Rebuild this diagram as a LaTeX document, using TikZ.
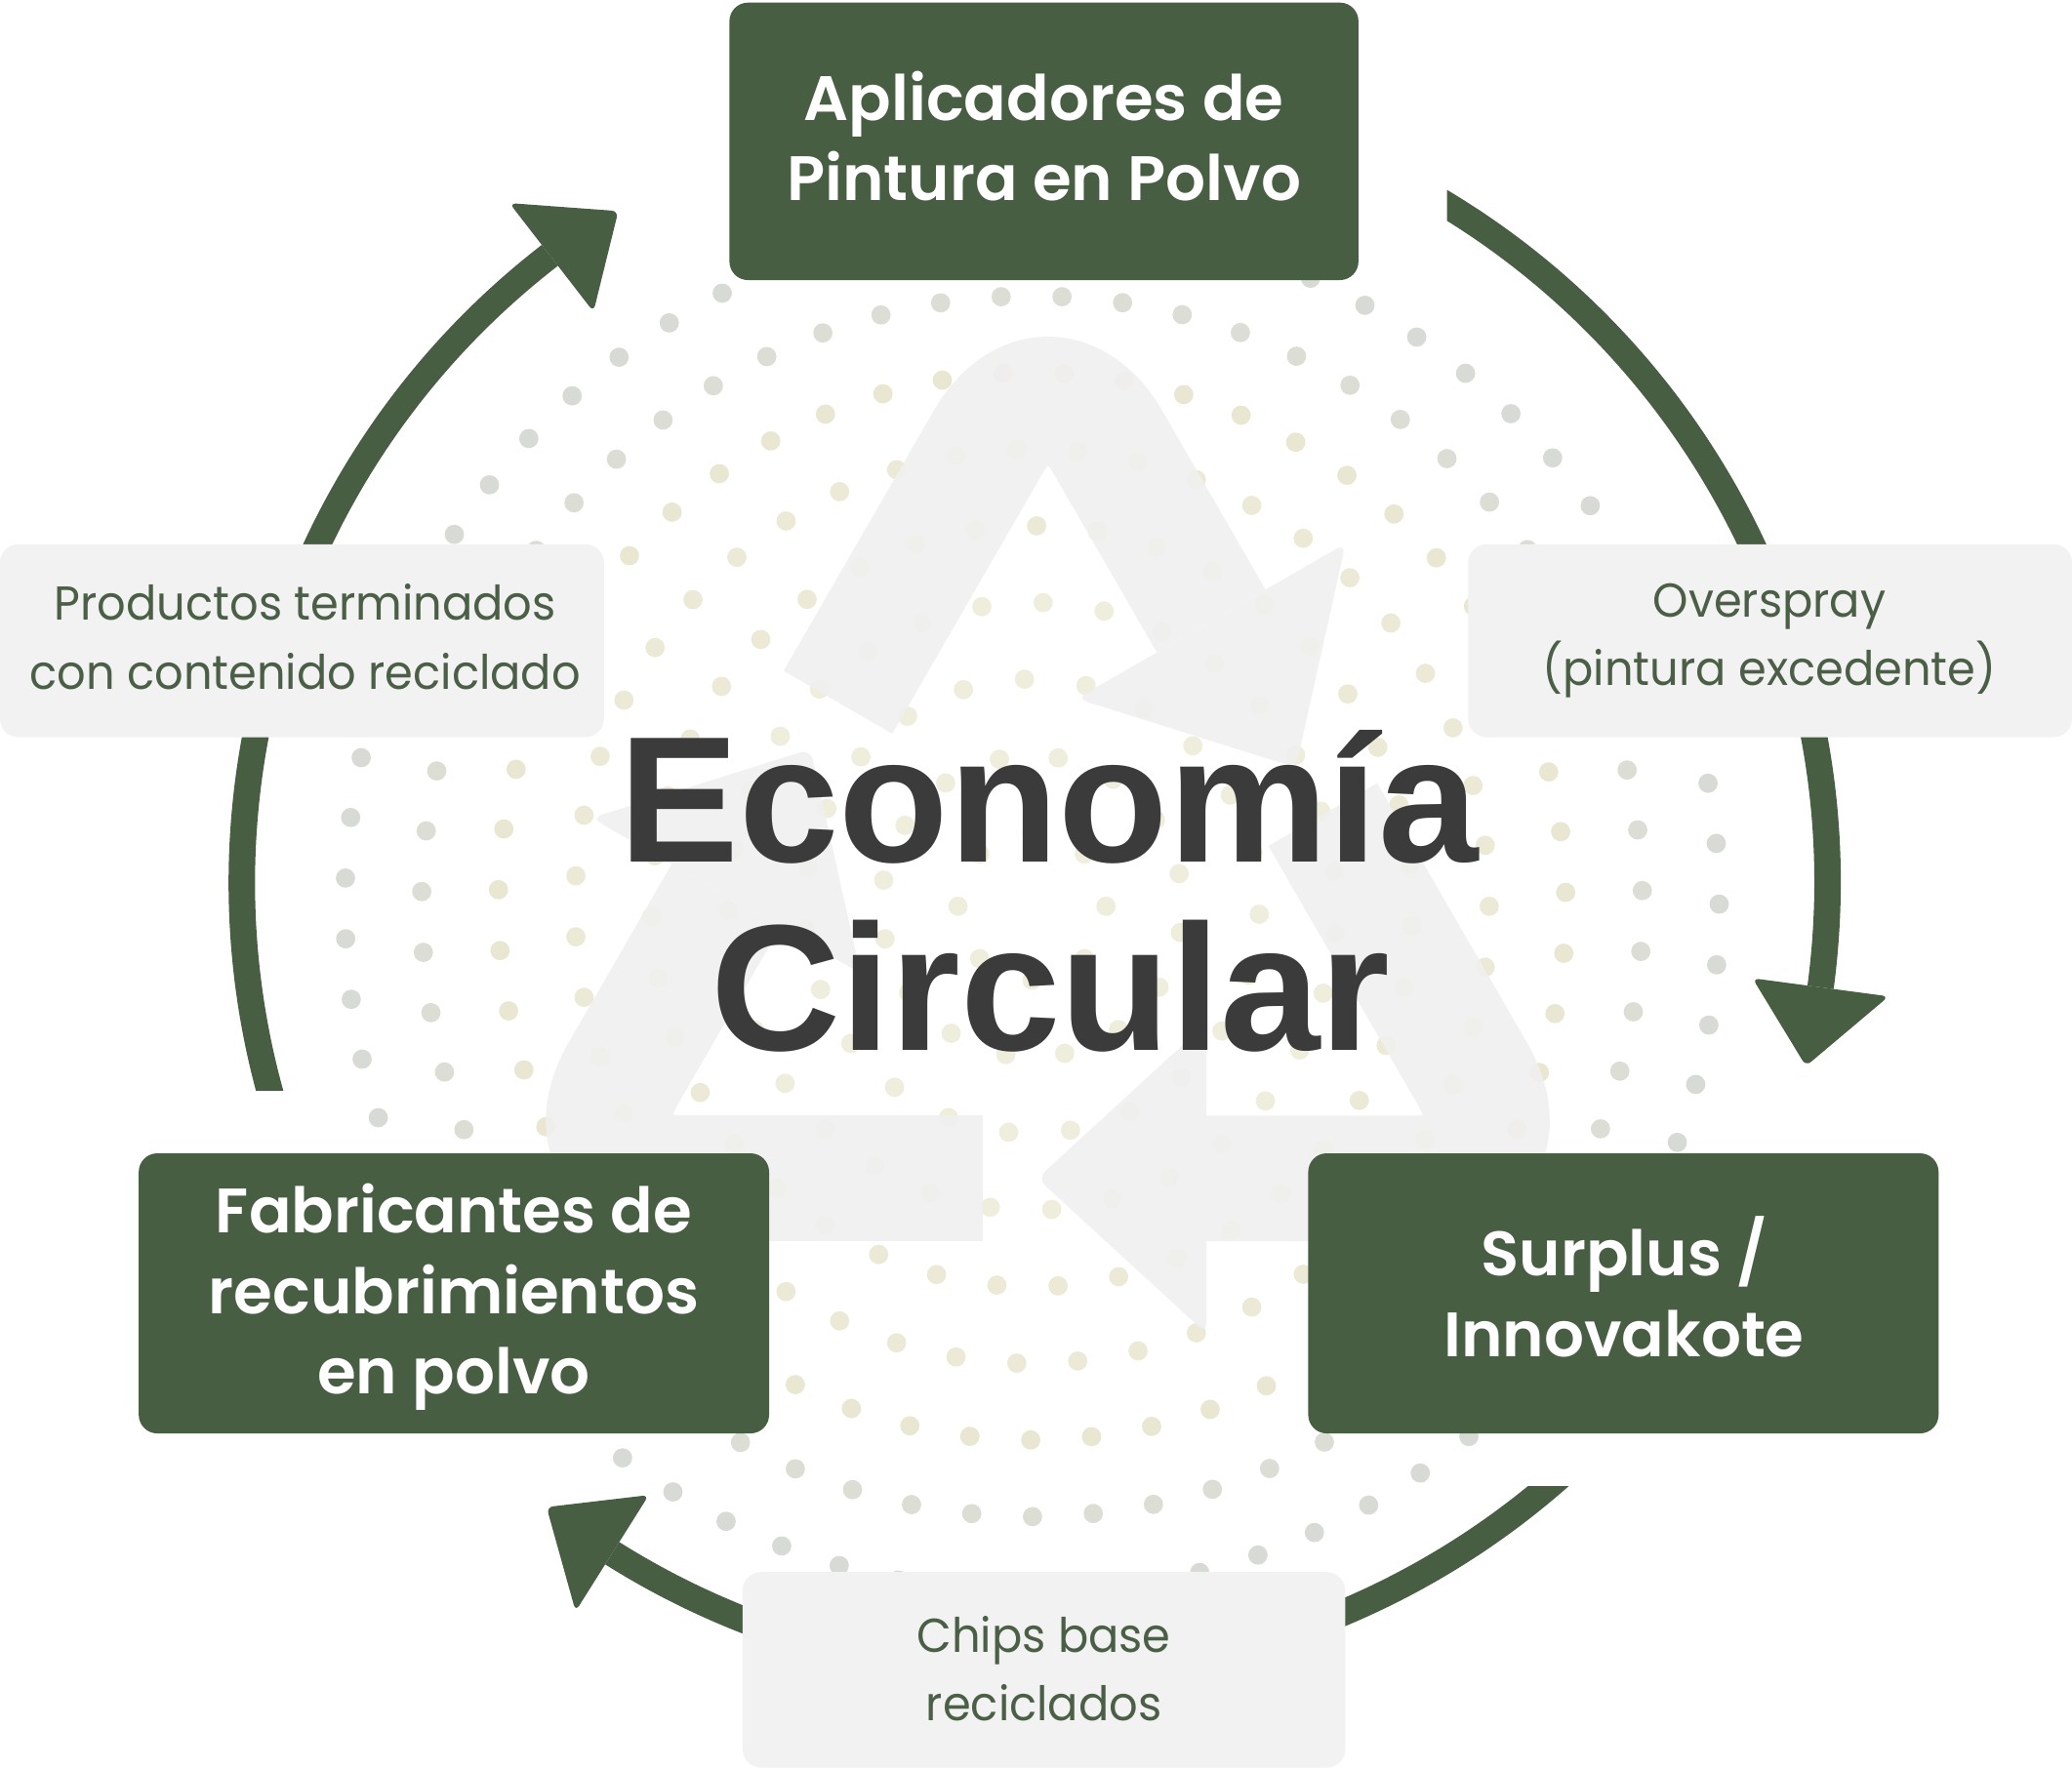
\documentclass[tikz,border=0pt]{standalone}
\usepackage{fontspec}
\setmainfont{Poppins}[FakeStretch=0.95]
\newfontfamily\boxfont{Poppins}[UprightFont=* SemiBold]
\newfontfamily\bigfont{Liberation Sans}
\usetikzlibrary{calc}
\definecolor{dkgreen}{HTML}{475E43}
\definecolor{labbg}{HTML}{F2F2F2}
\definecolor{labtxt}{HTML}{4A5F46}
\definecolor{ctxt}{HTML}{3B3B3B}
\definecolor{symb}{HTML}{F0F0F0}
\definecolor{dotA}{HTML}{D8DBD5}
\definecolor{dotB}{HTML}{DCDDD4}
\definecolor{dotC}{HTML}{E9E7D1}
\definecolor{dotD}{HTML}{ECEAD6}
\definecolor{dotE}{HTML}{EFEDDC}
\begin{document}
\begin{tikzpicture}[x=1pt,y=-1pt,
  darkbox/.style={fill=dkgreen, rounded corners=14pt, inner sep=0pt},
  boxtxt/.style={text=white, align=center, inner sep=0pt, font=\boxfont\fontsize{47.5}{61}\selectfont},
  labbox/.style={fill=labbg, rounded corners=14pt, inner sep=0pt},
  labtxtst/.style={text=labtxt, align=center, inner sep=0pt, font=\fontsize{36}{52}\selectfont},
  arcline/.style={draw=dkgreen, line width=20pt},
  headtip/.style={fill=dkgreen, rounded corners=5pt},
  symarm/.style={draw=symb, line width=95pt, rounded corners=91pt},
  symhead/.style={fill=symb, rounded corners=8pt},
  bigtxt/.style={text=ctxt, inner sep=0pt, font=\bigfont\bfseries\fontsize{136}{143}\selectfont}
]
\useasboundingbox (0,0) rectangle (1568,1338);
\fill[white] (0,0) rectangle (1568,1338);

% dotted rings
\foreach \rr/\nn/\oo/\dcol in {520/71/243.2/dotA, 462/63/267.1/dotB, 404/55/227.6/dotC, 346/47/0/dotD, 288/39/3/dotD, 230/31/5/dotE, 172/23/2/dotE, 114/16/10/dotE, 56/8/0/dotE}{
  \pgfmathsetmacro{\stp}{360/\nn}
  \foreach \kk in {1,...,\nn}{
    \fill[\dcol] ({781+\rr*cos(\oo+\kk*\stp)},{686+\rr*sin(\oo+\kk*\stp)}) circle[radius=7.3];
  }
}

% recycling symbol
\begin{scope}[transparency group, opacity=0.88]
  \foreach \ang in {0,120,240}{
    \begin{scope}[rotate around={\ang:(793,680)}]
      \draw[symarm] (1001,616.6) -- (1160,892) -- (913,892);
      \fill[symhead] (913,774.5) -- (785,892) -- (913,1009.5) -- cycle;
    \end{scope}
  }
\end{scope}

% cycle arcs
\coordinate (cen) at (783,668);
\begin{scope}
  \clip (1095,0) rectangle (1568,1338);
  \draw[arcline] ([shift={(cen)}]-75:600) arc[start angle=-75, end angle=7.6, radius=600];
\end{scope}
\fill[headtip] ([shift={(cen)}]7.6:548) -- ([shift={(cen)}]13.4:600) -- ([shift={(cen)}]7.6:652) -- cycle;
\begin{scope}
  \clip (0,1125) rectangle (1568,1338);
  \draw[arcline] ([shift={(cen)}]30:600) arc[start angle=30, end angle=122.2, radius=600];
\end{scope}
\fill[headtip] ([shift={(cen)}]122.2:548) -- ([shift={(cen)}]128:600) -- ([shift={(cen)}]122.2:652) -- cycle;
\begin{scope}
  \clip (0,0) rectangle (1568,825);
  \draw[arcline] ([shift={(cen)}]155:600) arc[start angle=155, end angle=232.3, radius=600];
\end{scope}
\fill[headtip] ([shift={(cen)}]232.3:546) -- ([shift={(cen)}]238.2:598) -- ([shift={(cen)}]232.3:650) -- cycle;

% light labels
\node[labbox, minimum width=457pt, minimum height=146pt] (prod) at (228.5,485) {};
\node[labtxtst] (prodtxt) at (231,482) {Productos terminados\\con contenido reciclado};
\node[labbox, minimum width=457pt, minimum height=146pt] (over) at (1339.5,485) {};
\node[labtxtst] (overtxt) at (1339,485) {Overspray\\(pintura excedente)};
\node[labbox, minimum width=456pt, minimum height=148pt] (chips) at (790,1264) {};
\node[labtxtst] (chipstxt) at (790,1263) {Chips base\\reciclados};

% dark boxes
\node[darkbox, minimum width=476pt, minimum height=210pt] (apl) at (790,107) {};
\node[boxtxt] (apltxt) at (790,103) {Aplicadores de\\Pintura en Polvo};
\node[darkbox, minimum width=477pt, minimum height=212pt] (fab) at (343.5,979) {};
\node[boxtxt] (fabtxt) at (343.5,982) {Fabricantes de\\recubrimientos\\en polvo};
\node[darkbox, minimum width=477pt, minimum height=212pt] (sur) at (1228.5,979) {};
\node[boxtxt] (surtxt) at (1229,974) {Surplus /\\Innovakote};

% centre title
\node[bigtxt, anchor=base] (eco) at (793.5,652.6) {Economía};
\node[bigtxt, anchor=base] (cir) at (795,795) {Circular};
\end{tikzpicture}
\end{document}
